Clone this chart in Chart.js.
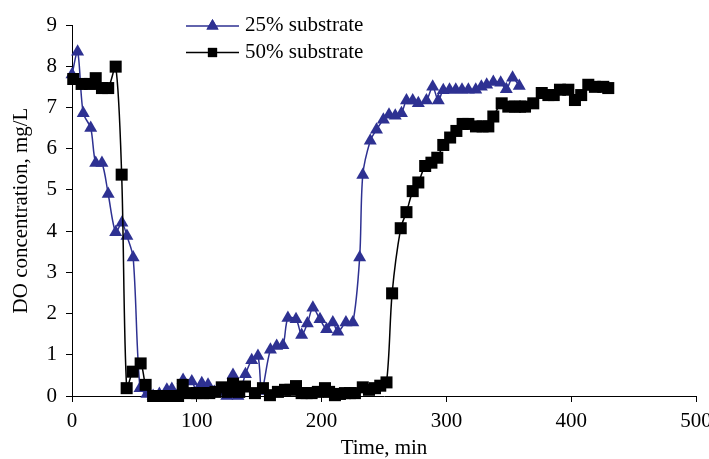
<!DOCTYPE html>
<html>
<head>
<meta charset="utf-8">
<script src="https://cdn.jsdelivr.net/npm/chart.js@4"></script>
<style>
html,body{margin:0;padding:0;background:#fff;}
#wrap{width:709px;height:459px;position:relative;}
</style>
</head>
<body>
<div id="wrap"><canvas id="c" width="709" height="459"></canvas></div>
<script>
// ---- data ----
const time25 = [0,4.5,9,15,19,24,29,35,40,44,49,54.5,60,65,70,76,80,85,89,96,100,104,109,114,119,124,129,133,139,144,149,152,159,164,169,173,179.5,184,188.6,193,198.7,204,209,213,219.5,225,230.5,233,239,244,249.5,254,259,264,268,273,277.5,284,289,293.5,297.5,302.5,307.5,312.5,317.6,323.5,328,332.3,337.6,343.5,348,353,358.4];
const do25   = [7.8,8.35,6.86,6.5,5.65,5.65,4.9,3.97,4.2,3.88,3.36,0.19,0.05,0.0,0.05,0.15,0.17,0.05,0.39,0.35,0.1,0.31,0.27,0.1,0.1,0.0,0.51,0.0,0.53,0.87,0.97,0.12,1.12,1.21,1.23,1.89,1.86,1.48,1.76,2.14,1.86,1.62,1.78,1.56,1.78,1.78,3.36,5.36,6.19,6.46,6.7,6.82,6.8,6.86,7.17,7.17,7.1,7.17,7.5,7.17,7.42,7.43,7.43,7.43,7.43,7.43,7.5,7.55,7.62,7.6,7.44,7.72,7.52];

const time50 = [1,7.7,14.4,19,24,29,35,39.8,43.8,48.6,55,59,65,70,75,80,85,88.7,94.5,100,105,110,115,120,125,129,134,138.6,146.6,153,158.6,165,170.7,175,179.5,184,188,192,197,202.7,206,210.7,214.7,218.7,222.7,226.7,233,238,242.8,247,252,256.5,263.4,268,273,277.5,283,288,292.7,297.5,303,308,313,317.6,323.7,329,333.6,337.6,344.3,349.6,355,359,363,369.6,376.4,381.7,386,391,397.7,403,408,413.7,419,425.7,429.7];
const do50   = [7.69,7.57,7.57,7.71,7.47,7.47,7.99,5.37,0.19,0.59,0.79,0.27,0,0,0,0,0,0.27,0.07,0.07,0.07,0.07,0.1,0.21,0.1,0.3,0.1,0.23,0.07,0.19,0.02,0.1,0.15,0.15,0.24,0.07,0.07,0.07,0.1,0.19,0.1,0.02,0.05,0.07,0.07,0.07,0.21,0.15,0.19,0.25,0.33,2.49,4.07,4.46,4.97,5.18,5.58,5.66,5.78,6.09,6.27,6.43,6.6,6.6,6.54,6.54,6.54,6.78,7.1,7.02,7.02,7.02,7.02,7.1,7.35,7.3,7.3,7.43,7.43,7.18,7.3,7.55,7.5,7.5,7.47];

const seriesNames = ['25% substrate','50% substrate'];
const xTicks = [0,100,200,300,400,500];
const yTicks = [0,1,2,3,4,5,6,7,8,9];
const xTitle = 'Time, min';
const yTitle = 'DO concentration, mg/L';

const BLUE = '#2E3192';
const FONT = "'Liberation Serif', 'Times New Roman', serif";

function pts(t, v){ return t.map((x,i)=>({x:x, y:v[i]})); }

const legendPlugin = {
  id:'customLegend',
  afterDraw(chart){
    const ctx = chart.ctx;
    const rows = [
      {y:26, color:BLUE, style:'triangle', r:7, name:seriesNames[0]},
      {y:52.5, color:'#000', style:'rect', r:6.5, name:seriesNames[1]}
    ];
    ctx.save();
    rows.forEach(row=>{
      ctx.strokeStyle = row.color;
      ctx.lineWidth = 1.5;
      ctx.beginPath();
      ctx.moveTo(186,row.y); ctx.lineTo(239,row.y);
      ctx.stroke();
      ctx.fillStyle = row.color;
      Chart.helpers.drawPoint(ctx,{pointStyle:row.style, radius:row.r, borderWidth:0}, 212.5, row.y);
      ctx.fill();
      ctx.fillStyle = '#000';
      ctx.font = '21px ' + FONT;
      ctx.textBaseline = 'middle';
      ctx.textAlign = 'left';
      ctx.fillText(row.name, 245, row.y - 0.5);
    });
    ctx.restore();
  }
};

const axisCommon = {
  grid:{display:true, drawOnChartArea:false, drawTicks:true, tickLength:6, color:'#000', lineWidth:1},
  border:{display:true, color:'#000', width:1},
  ticks:{color:'#000', font:{family:FONT, size:21}},
  title:{display:true, color:'#000', font:{family:FONT, size:21, lineHeight:1.2}}
};

new Chart(document.getElementById('c'), {
  type:'scatter',
  data:{
    datasets:[
      {label:seriesNames[0], data:pts(time25,do25), showLine:true, borderColor:BLUE, backgroundColor:BLUE,
       borderWidth:1.5, pointStyle:'triangle', pointRadius:7.5, pointBorderWidth:0, pointBackgroundColor:BLUE,
       tension:0.3, clip:false, order:1},
      {label:seriesNames[1], data:pts(time50,do50), showLine:true, borderColor:'#000', backgroundColor:'#000',
       borderWidth:1.5, pointStyle:'rect', pointRadius:8.5, pointBorderWidth:0, pointBackgroundColor:'#000',
       tension:0.3, clip:false, order:0}
    ]
  },
  options:{
    responsive:false, animation:false, devicePixelRatio:1,
    layout:{padding:{top:25, right:13, left:0, bottom:0}},
    plugins:{legend:{display:false}, tooltip:{enabled:false}},
    scales:{
      x:{
        type:'linear', min:0, max:500,
        grid:axisCommon.grid, border:axisCommon.border,
        ticks:Object.assign({}, axisCommon.ticks, {stepSize:100, padding:7, maxRotation:0,
          callback:(v)=> xTicks.includes(v) ? String(v) : ''}),
        title:Object.assign({}, axisCommon.title, {text:xTitle, padding:{top:0,bottom:-2}}),
        afterFit(s){ s.height = 63; s.paddingLeft=0; s.paddingRight=0; }
      },
      y:{
        type:'linear', min:0, max:9,
        grid:axisCommon.grid, border:axisCommon.border,
        ticks:Object.assign({}, axisCommon.ticks, {stepSize:1, padding:9,
          callback:(v)=> yTicks.includes(v) ? String(v) : ''}),
        title:Object.assign({}, axisCommon.title, {text:yTitle, padding:{top:9,bottom:0}}),
        afterFit(s){ s.width = 72; s.paddingTop=0; s.paddingBottom=0; }
      }
    }
  },
  plugins:[legendPlugin]
});
</script>
</body>
</html>
